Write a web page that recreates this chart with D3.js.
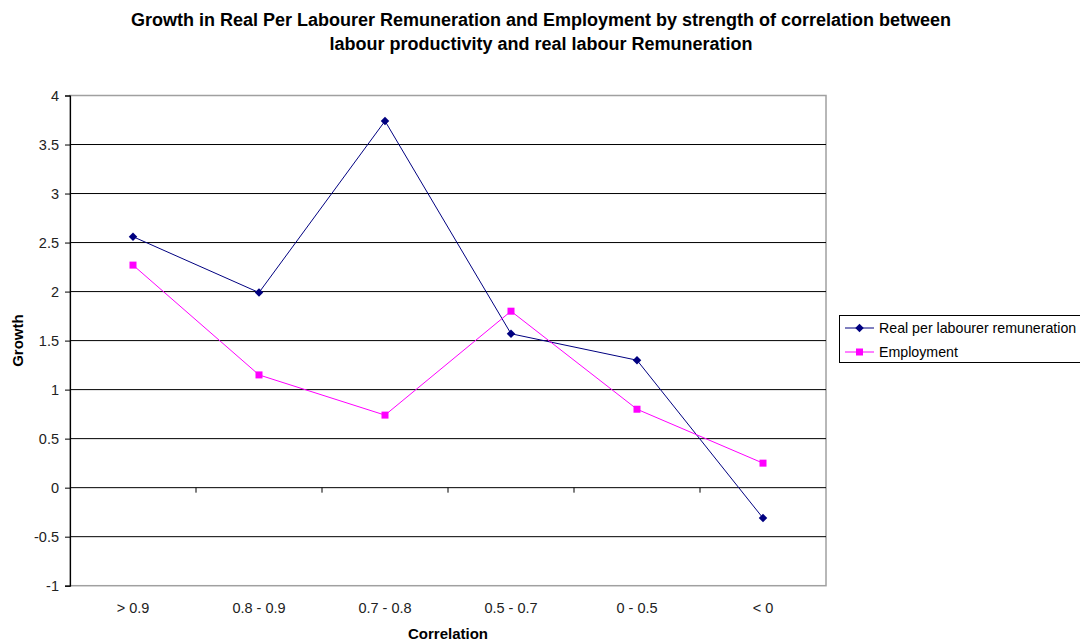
<!DOCTYPE html>
<html>
<head>
<meta charset="utf-8">
<script src="https://cdn.jsdelivr.net/npm/d3@7"></script>
<style>
  body { margin: 0; background: #fff; }
  svg { display: block; font-family: "Liberation Sans", Arial, sans-serif; }
</style>
</head>
<body>
<svg id="chart" width="1080" height="643"></svg>
<script>
// Correlation bands and growth figures
const categories = ["> 0.9", "0.8 - 0.9", "0.7 - 0.8", "0.5 - 0.7", "0 - 0.5", "< 0"];
const remuneration = [2.56, 1.99, 3.74, 1.57, 1.30, -0.31];
const employment = [2.27, 1.15, 0.74, 1.80, 0.80, 0.25];
const yTicks = [-1, -0.5, 0, 0.5, 1, 1.5, 2, 2.5, 3, 3.5, 4];
const seriesNames = ["Real per labourer remuneration", "Employment"];

const svg = d3.select("#chart");
const plot = { left: 70, right: 826, top: 95.5, bottom: 585.7 };

const x = d3.scaleBand().domain(categories).range([plot.left, plot.right]);
const y = d3.scaleLinear().domain([-1, 4]).range([plot.bottom, plot.top]);

// Title
const title = svg.append("text")
  .attr("text-anchor", "middle")
  .attr("font-size", 18).attr("font-weight", "bold").attr("fill", "#000");
title.append("tspan").attr("x", 541).attr("y", 26)
  .text("Growth in Real Per Labourer Remuneration and Employment by strength of correlation between");
title.append("tspan").attr("x", 541).attr("y", 50)
  .text("labour productivity and real labour Remuneration");

// Plot frame (grey on top/right/bottom)
svg.append("rect")
  .attr("x", plot.left).attr("y", plot.top)
  .attr("width", plot.right - plot.left).attr("height", plot.bottom - plot.top)
  .attr("fill", "#fff").attr("stroke", "#a0a0a0").attr("stroke-width", 1.5);

// Horizontal gridlines
svg.append("g").selectAll("line")
  .data(yTicks.filter(d => d > -1 && d < 4))
  .join("line")
  .attr("x1", plot.left).attr("x2", plot.right)
  .attr("y1", d => y(d)).attr("y2", d => y(d))
  .attr("stroke", "#000").attr("stroke-width", 1);

// Y axis
const yAxis = svg.append("g")
  .attr("transform", `translate(${plot.left},0)`)
  .call(d3.axisLeft(y).tickValues(yTicks).tickSize(5).tickPadding(6)
    .tickFormat(d => String(d)));
yAxis.select(".domain").attr("stroke", "#000").attr("stroke-width", 1.2);
yAxis.selectAll(".tick line").attr("stroke", "#000");
yAxis.selectAll(".tick text").attr("font-size", 14.5).attr("fill", "#222")
  .attr("font-family", "'Liberation Sans', Arial, sans-serif");

// Category axis along zero with boundary ticks
const bounds = d3.range(1, categories.length).map(i => plot.left + i * x.bandwidth());
svg.append("g").selectAll("line")
  .data(bounds)
  .join("line")
  .attr("x1", d => d).attr("x2", d => d)
  .attr("y1", y(0)).attr("y2", y(0) + 5)
  .attr("stroke", "#000");

svg.append("g").selectAll("text")
  .data(categories)
  .join("text")
  .attr("x", d => x(d) + x.bandwidth() / 2)
  .attr("y", 613)
  .attr("text-anchor", "middle")
  .attr("font-size", 14.5).attr("fill", "#222")
  .text(d => d);

// Axis titles
svg.append("text")
  .attr("x", 448).attr("y", 638.5).attr("text-anchor", "middle")
  .attr("font-size", 15).attr("font-weight", "bold").text("Correlation");
svg.append("text")
  .attr("transform", `translate(23,${(plot.top + plot.bottom) / 2}) rotate(-90)`)
  .attr("text-anchor", "middle")
  .attr("font-size", 15).attr("font-weight", "bold").text("Growth");

// Series
const cx = (d, i) => x(categories[i]) + x.bandwidth() / 2;
const line = d3.line().x(cx).y(d => y(d));

const navy = "#000080", magenta = "#ff00ff";

svg.append("path").datum(remuneration)
  .attr("d", line).attr("fill", "none").attr("stroke", navy).attr("stroke-width", 1);
svg.append("path").datum(employment)
  .attr("d", line).attr("fill", "none").attr("stroke", magenta).attr("stroke-width", 1);

const diamond = d3.symbol().type(d3.symbolDiamond2).size(46);
svg.append("g").selectAll("path")
  .data(remuneration)
  .join("path")
  .attr("d", diamond)
  .attr("transform", (d, i) => `translate(${cx(d, i)},${y(d)})`)
  .attr("fill", navy);

svg.append("g").selectAll("rect")
  .data(employment)
  .join("rect")
  .attr("x", (d, i) => cx(d, i) - 3.5).attr("y", d => y(d) - 3.5)
  .attr("width", 7).attr("height", 7)
  .attr("fill", magenta);

// Legend
const legend = svg.append("g");
legend.append("rect")
  .attr("x", 839.5).attr("y", 315.5).attr("width", 260).attr("height", 47)
  .attr("fill", "#fff").attr("stroke", "#000").attr("stroke-width", 1);

const legendColors = [navy, magenta];
seriesNames.forEach((name, i) => {
  const ly = 328 + i * 24;
  legend.append("line")
    .attr("x1", 845).attr("x2", 874).attr("y1", ly).attr("y2", ly)
    .attr("stroke", legendColors[i]);
  if (i === 0) {
    legend.append("path").attr("d", diamond)
      .attr("transform", `translate(859.5,${ly})`).attr("fill", navy);
  } else {
    legend.append("rect").attr("x", 856).attr("y", ly - 3.5)
      .attr("width", 7).attr("height", 7).attr("fill", magenta);
  }
  legend.append("text")
    .attr("x", 879).attr("y", ly + 5)
    .attr("font-size", 14.2).attr("fill", "#000").text(name);
});
</script>
</body>
</html>
